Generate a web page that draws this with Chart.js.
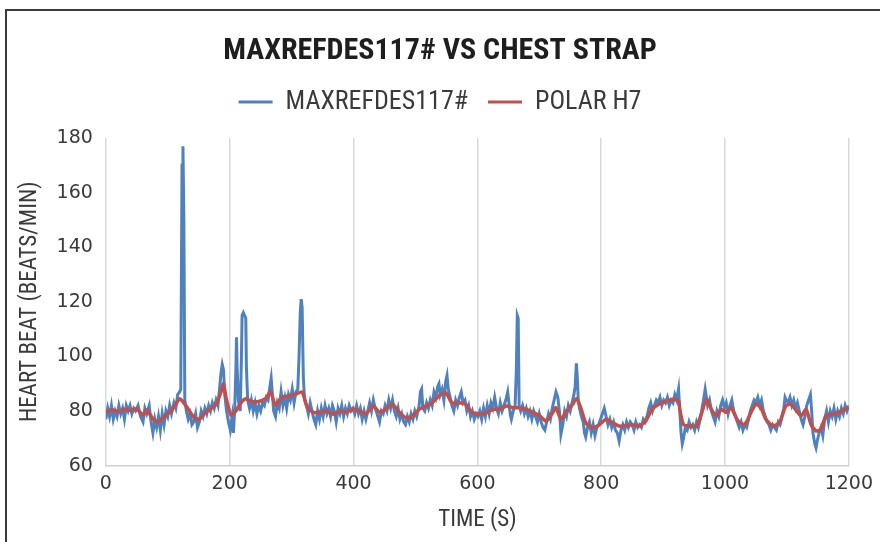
<!DOCTYPE html>
<html>
<head>
<meta charset="utf-8">
<script src="https://cdn.jsdelivr.net/npm/chart.js@4.4.1/dist/chart.umd.min.js"></script>
<style>
  html, body { margin: 0; padding: 0; background: #ffffff; }
  #wrap { position: relative; width: 880px; height: 542px; overflow: hidden; }
  #frame { position: absolute; left: 5px; top: 9px; width: 900px; height: 600px;
           border-top: 2px solid #3a3a3a; border-left: 2px solid #3a3a3a; pointer-events: none; }
  canvas { position: absolute; left: 0; top: 0; }
</style>
</head>
<body>
<div id="wrap">
  <canvas id="c" width="880" height="542"></canvas>
  <div id="frame"></div>
</div>
<script>
const chartTitle = 'MAXREFDES117# VS CHEST STRAP';
const seriesNames = ['MAXREFDES117#', 'POLAR H7'];
const xTitle = 'TIME (S)';
const yTitle = 'HEART BEAT (BEATS/MIN)';

// MAXREFDES117# (blue) – time in seconds, heart rate in beats/min
const blueTime = [0,3,6,9,12,15,18,21,24,27,30,33,36,39,42,45,48,52,56,60,63,66,70,73,76,79,82,85,88,91,94,97,100,103,106,110,113,116,119,121,123,124.5,126,127.5,130,133,136,139,142,145,148,151,154,157,160,163,166,169,172,175,178,181,184,186,188,190,192,195,198,201,204,206,208,210,211,212,214,217,219,220,222,224,226,227,229,232,235,238,241,244,247,250,253,256,259,262,265,267,269,271,274,277,280,283,286,289,292,295,298,301,304,307,310,312,314,315.5,317,319,321,324,327,330,333,336,339,342,345,348,351,354,357,360,363,366,369,372,375,378,381,384,387,390,393,396,399,402,405,408,411,414,417,420,423,426,429,432,435,438,442,445,448,451,454,457,460,463,466,469,472,475,478,481,484,487,490,493,496,499,502,506,508,510,512,515,518,521,524,527,530,533,536,538,540,543,546,549,551,553,556,559,562,565,568,571,574,577,580,583,586,589,592,595,598,601,604,607,610,613,616,619,622,625,628,631,634,637,640,643,646,649,651,653,655,658,661,663,664.5,666,667.5,670,673,676,679,682,685,688,691,694,697,700,703,706,709,712,715,718,721,724,727,730,733,735,738,741,744,747,750,753,756,758,760,761.5,763,765,768,771,773,775,778,781,784,787,790,793,796,799,802,805,808,811,814,817,820,823,826,829,832,835,838,841,844,847,850,853,856,859,862,865,868,871,874,877,880,883,886,889,892,895,898,901,904,907,910,913,916,919,922,925,927,929,931,933,936,939,942,945,948,951,954,957,960,963,966,968,970,972,975,978,981,984,987,990,993,996,999,1002,1005,1008,1011,1014,1017,1020,1023,1026,1029,1032,1035,1038,1041,1044,1047,1050,1053,1056,1059,1062,1065,1068,1071,1074,1077,1080,1083,1086,1089,1092,1095,1097,1099,1102,1105,1108,1111,1114,1117,1120,1123,1126,1129,1132,1135,1138,1140,1142,1145,1147,1149,1152,1155,1158,1161,1164,1167,1170,1173,1176,1179,1182,1185,1188,1191,1194,1197,1200];
const blueBpm = [77,81,78,82,77,80,78,82,79,81,77,82,80,82,79,81,80,82,78,76,81,79,82,76,72,77,74,78,73,79,75,80,78,82,79,83,81,86,87,88,170,177,150,84,80,77,79,75,76,79,74,76,80,78,81,79,82,80,83,81,84,82,89,94,97,95,86,80,76,73,78,72,80,95,107,96,84,80,100,115,116,115,114,96,84,81,84,80,83,79,82,80,83,82,85,84,89,92,86,80,78,83,81,87,82,85,81,86,84,88,83,87,88,100,116,121,118,92,84,82,79,83,80,77,75,80,77,81,78,82,79,81,78,82,80,76,81,79,82,78,81,79,82,80,81,79,82,79,81,77,80,77,80,83,80,84,81,79,76,80,79,82,80,84,81,84,80,78,81,77,79,76,75,78,76,79,77,80,78,82,87,88,81,80,83,81,84,82,87,85,89,90,86,88,84,91,93,88,85,82,80,84,82,85,87,83,84,80,82,78,80,77,79,78,80,77,81,78,82,79,83,81,85,81,79,83,80,82,84,87,83,79,77,80,82,95,115,114,82,80,82,79,81,78,80,77,80,78,76,79,76,74,73,76,79,77,81,84,87,85,79,71.5,75,80,78,82,80,83,86,89,97.5,92,84,81,78,76,72,70.5,74,76,72,75,71,74,75,77,79,81,78,75,77,74,76,73,72,69,73,75,73,76,74,76,75,73,76,74,75,74,77,76,78,81,83,80,82,84,83,85,82,84,83,85,82,84,83,86,84,88,80,72,68,70,74,73,76,74,75,73,76,74,77,81,85,88,85,82,84,80,78,76,80,78,82,84,81,83,79,82,84,80,78,76,74,76,73,75,74,77,80,82,84,83,85,82,84,80,78,76,75,73,75,74,73,76,75,78,81,85,84,83,85,82,84,81,83,80,77,75,78,82,84,86,80,72,68,66.5,69,72,74,71,77,80,76,80,78,81,77,80,78,81,79,82,80,82];

// POLAR H7 (red) – time in seconds, heart rate in beats/min
const redTime = [0,10,20,30,40,50,60,66,72,78,85,90,97,105,113,119,126,135,143,151,159,167,178,186,190,194,202,210,218,226,236,247,258,266,274,284,295,305,317,325,335,345,356,367,378,388,399,410,420,431,442,452,463,474,485,495,506,517,527,538,549,559,570,581,591,600,610,626,636,647,658,669,679,690,701,711,722,727,735,743,754,760,767,775,786,797,808,818,829,840,850,861,872,882,893,906,917,925,927,933,943,954,962,970,978,986,994,1002,1010,1021,1032,1042,1050,1058,1066,1077,1088,1098,1106,1114,1123,1131,1139,1147,1155,1163,1173,1184,1195,1200];
const redBpm = [79.5,80.5,79.8,80.6,80.2,80.8,78.5,80.5,78.5,76.5,76,77,78.5,80,82.5,84.5,83,80,77.5,77,79,80.5,82.5,87,90,85,78.5,80,83,84.5,83.5,83.5,84.5,87,82,85,85.5,86,87,81.5,79.5,79.5,80,78.8,80,79.5,80.7,80,78.8,82,79.5,80.7,82.5,79.5,77.5,78,80.6,81.8,83,85.5,86.7,83,83,82.5,79.5,79,79,80.6,80.6,81.8,81.2,81.2,80.6,79.5,78.2,76.3,79.5,81.2,77,79.5,82.5,84.5,81.2,75.7,73.9,75,77,75.7,74.5,74.5,75,74.5,76.3,80.6,82.5,83.7,84.3,83.7,80.6,75,74.5,74.5,79,84.3,80.6,78.2,80.6,79.5,81.2,76.3,75,79.5,82.5,81.2,77,74.5,75.7,81.8,82.5,80.6,78.2,80.6,75,72.7,73.3,78.2,78.8,79.5,80.6,81.2];

// axis ticks
const xTicks = [0, 200, 400, 600, 800, 1000, 1200];
const yTicks = [60, 80, 100, 120, 140, 160, 180];

const blueColor = '#4F81BD';
const redColor = '#C0504D';
const condensed = "'Roboto Condensed', 'Open Sans', sans-serif";
const tickFont = "'DejaVu Sans', sans-serif";
const textColor = '#3a3a3a';

const toPoints = (xs, ys) => xs.map((x, i) => ({ x: x, y: ys[i] }));

const legendGap = {
  id: 'legendGap',
  afterInit(chart) {
    const lg = chart.legend;
    if (!lg) return;
    const orig = lg.fit;
    lg.fit = function () { orig.call(this); this.height += 13; };
  }
};

new Chart(document.getElementById('c'), {
  type: 'line',
  data: {
    datasets: [
      { label: seriesNames[0], data: toPoints(blueTime, blueBpm), borderColor: blueColor,
        backgroundColor: blueColor, borderWidth: 3, pointRadius: 0, tension: 0, order: 2 },
      { label: seriesNames[1], data: toPoints(redTime, redBpm), borderColor: redColor,
        backgroundColor: redColor, borderWidth: 3.5, pointRadius: 0, tension: 0.2, order: 1 }
    ]
  },
  plugins: [legendGap],
  options: {
    responsive: false,
    animation: false,
    devicePixelRatio: 1,
    layout: { padding: { left: 16, right: 16, top: 33, bottom: 8 } },
    plugins: {
      title: { display: true, text: chartTitle, color: '#1e1e1e',
               font: { family: condensed, size: 30, weight: 'bold' }, padding: { top: 0, bottom: 0 } },
      legend: {
        display: true, position: 'top',
        labels: {
          color: textColor, font: { family: condensed, size: 26 }, boxWidth: 34, boxHeight: 3, padding: 20,
          generateLabels: (chart) => chart.data.datasets.map((ds, i) => ({
            text: ds.label, fillStyle: ds.borderColor, strokeStyle: ds.borderColor,
            lineWidth: 0, hidden: false, datasetIndex: i, fontColor: textColor
          }))
        }
      },
      tooltip: { enabled: false }
    },
    scales: {
      x: {
        type: 'linear', min: 0, max: 1200,
        afterBuildTicks: (s) => { s.ticks = xTicks.map(v => ({ value: v })); },
        ticks: { color: textColor, font: { family: tickFont, size: 19 }, padding: 7,
                 callback: (v) => String(v) },
        grid: { display: true, color: '#d9d9d9', lineWidth: 1.5, drawTicks: false },
        border: { display: true, color: '#d0d0d0', width: 1.5 },
        title: { display: true, text: xTitle, color: textColor, font: { family: condensed, size: 23 },
                 padding: { top: 4, bottom: 0 } }
      },
      y: {
        type: 'linear', min: 60, max: 180,
        afterBuildTicks: (s) => { s.ticks = yTicks.map(v => ({ value: v })); },
        ticks: { color: textColor, font: { family: tickFont, size: 19 }, padding: 13,
                 callback: (v) => String(v) },
        grid: { display: false, drawTicks: false },
        border: { display: false },
        title: { display: true, text: yTitle, color: textColor, font: { family: condensed, size: 23 },
                 padding: { top: 0, bottom: 0 } }
      }
    }
  }
});
</script>
</body>
</html>
